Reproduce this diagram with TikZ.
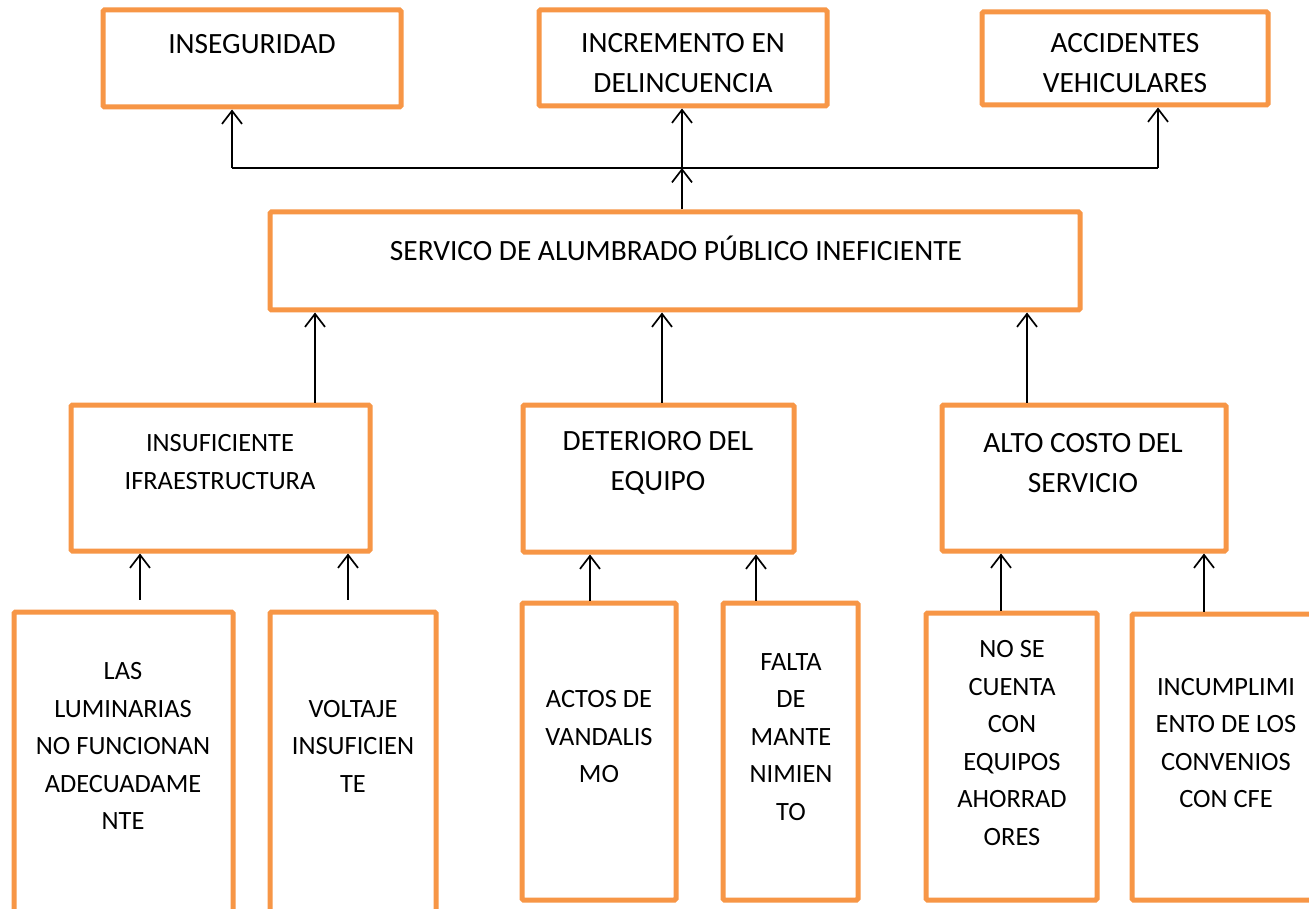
\documentclass[tikz,border=0pt]{standalone}
\usepackage{fontspec}
\setmainfont{Carlito}
\usetikzlibrary{arrows.meta}
\definecolor{boxorange}{RGB}{247,150,70}
\tikzset{
  obox/.style={draw=boxorange, line width=5pt, rounded corners=1.5pt, inner sep=0pt},
  lbl/.style={align=center, inner sep=0pt, font=\fontsize{29.4}{40.5}\selectfont},
  slbl/.style={align=center, inner sep=0pt, font=\fontsize{26.4}{37.5}\selectfont},
  conn/.style={draw=black, line width=1.7pt},
  arr/.style={conn, -{Straight Barb[length=13pt, width=20pt, line width=1.7pt]}},
}
\newcommand\obx[5]{%
  \pgfmathsetmacro\bw{#4-#2}\pgfmathsetmacro\bh{#5-#3}%
  \node[obox, minimum width=\bw pt, minimum height=\bh pt] (#1) at ({(#2+#4)/2},{(#3+#5)/2}) {};}
\begin{document}
\begin{tikzpicture}[x=1pt,y=-1pt]
\fill[white] (0,0) rectangle (1309,909);
\useasboundingbox (0,0) rectangle (1309,909);
% top row
\obx{inseg}{103}{10}{401}{107}
\obx{incr}{539}{10}{827}{106}
\obx{acci}{982}{12}{1268}{105}
% central problem
\obx{serv}{270}{212}{1080}{310}
% middle row
\obx{insuf}{71}{405}{370}{551}
\obx{deter}{523}{405}{794}{552}
\obx{alto}{942}{405}{1226}{551}
% bottom row
\obx{lumi}{14}{612}{233}{918}
\obx{volt}{270}{612}{436}{918}
\obx{actos}{522}{603}{676}{900}
\obx{falta}{723}{603}{858}{900}
\obx{nose}{926}{613}{1097}{900}
\obx{incum}{1132}{614}{1322}{900}
% texts
\node[lbl] (t1) at (252,44) {INSEGURIDAD};
\node[lbl] (t2) at (683,63) {INCREMENTO EN\\DELINCUENCIA};
\node[lbl] (t3) at (1125,63) {ACCIDENTES\\VEHICULARES};
\node[lbl] (t4) at (676,248) {SERVICO DE ALUMBRADO PÚBLICO INEFICIENTE};
\node[slbl] (t5) at (220,462) {INSUFICIENTE\\IFRAESTRUCTURA};
\node[lbl] (t6) at (658,463) {DETERIORO DEL\\EQUIPO};
\node[lbl] (t7) at (1083,463) {ALTO COSTO DEL\\SERVICIO};
\node[slbl] (t8) at (123,746) {LAS\\LUMINARIAS\\NO FUNCIONAN\\ADECUADAME\\NTE};
\node[slbl] (t9) at (353,746) {VOLTAJE\\INSUFICIEN\\TE};
\node[slbl] (t10) at (599,737) {ACTOS DE\\VANDALIS\\MO};
\node[slbl] (t11) at (791,737) {FALTA\\DE\\MANTE\\NIMIEN\\TO};
\node[slbl] (t12) at (1012,743) {NO SE\\CUENTA\\CON\\EQUIPOS\\AHORRAD\\ORES};
\node[slbl] (t13) at (1226,743) {INCUMPLIMI\\ENTO DE LOS\\CONVENIOS\\CON CFE};
% connectors top
\coordinate (hl) at (232,168);
\coordinate (hm) at (682,168);
\coordinate (hr) at (1158,168);
\draw[conn] (hl) -- (hr);
\draw[arr] (hl) -- (inseg.south -| hl);
\draw[arr] (hr) -- (acci.south -| hr);
\draw[arr] (serv.north -| hm) -- (hm);
\draw[arr] (hm) -- (incr.south -| hm);
% middle to central
\draw[arr] (insuf.north -| 315,0) -- (serv.south -| 315,0);
\draw[arr] (deter.north -| 662,0) -- (serv.south -| 662,0);
\draw[arr] (alto.north -| 1027,0) -- (serv.south -| 1027,0);
% bottom to middle
\draw[arr, shorten <=10pt] (lumi.north -| 140,0) -- (insuf.south -| 140,0);
\draw[arr, shorten <=10pt] (volt.north -| 348,0) -- (insuf.south -| 348,0);
\draw[arr] (actos.north -| 590,0) -- (deter.south -| 590,0);
\draw[arr] (falta.north -| 756,0) -- (deter.south -| 756,0);
\draw[arr] (nose.north -| 1001,0) -- (alto.south -| 1001,0);
\draw[arr] (incum.north -| 1204,0) -- (alto.south -| 1204,0);
\end{tikzpicture}
\end{document}
